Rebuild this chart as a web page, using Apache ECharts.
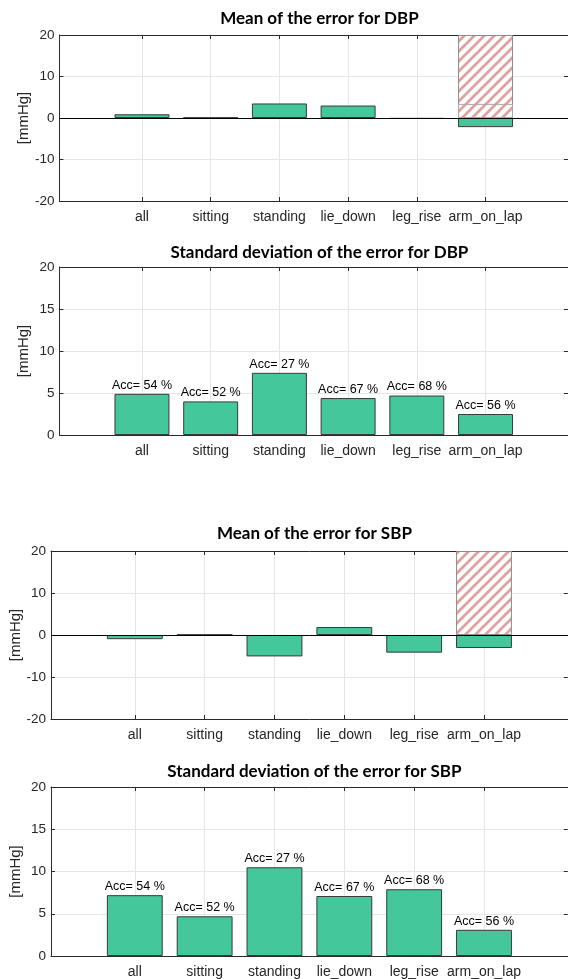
<!DOCTYPE html>
<html><head><meta charset="utf-8">
<script src="https://cdn.jsdelivr.net/npm/echarts@6/dist/echarts.min.js"></script>
<style>html,body{margin:0;padding:0;background:#fff}#c{width:568px;height:979px}</style>
</head><body><div id="c"></div>
<script>
// ---- data ----
const categories = ['all', 'sitting', 'standing', 'lie_down', 'leg_rise', 'arm_on_lap'];
const dbpMean = [0.9, 0.1, 3.5, 3.0, -0.2, -2.2];
const dbpStd  = [4.9, 4.0, 7.4, 4.4, 4.7, 2.5];
const sbpMean = [-1.0, 0.1, -5.1, 1.9, -4.2, -3.1];
const sbpStd  = [7.2, 4.7, 10.5, 7.1, 7.9, 3.1];
const dbpAcc  = [54, 52, 27, 67, 68, 56];
const sbpAcc  = [54, 52, 27, 67, 68, 56];
const dbpHatch     = [null, null, null, null, null, 20];
const dbpHatchMark = [null, null, null, null, null, 3.4];
const sbpHatch     = [null, null, null, null, null, 20];
const titles = ['Mean of the error for DBP', 'Standard deviation of the error for DBP',
                'Mean of the error for SBP', 'Standard deviation of the error for SBP'];
const meanRange = [-20, 20, 10];
const stdRange  = [0, 20, 5];
const unitLabel = '[mmHg]';

// ---- layout ----
const panels = [
  { title: titles[0], left: 59.5, right: -1.4, top: 35,  height: 166, ty: 5,   vals: dbpMean, range: meanRange, hatch: [dbpHatch, dbpHatchMark], acc: null },
  { title: titles[1], left: 59.5, right: -1.4, top: 267, height: 168, ty: 239, vals: dbpStd,  range: stdRange,  hatch: [], acc: dbpAcc },
  { title: titles[2], left: 51,   right: 0.2,  top: 551, height: 168, ty: 520, vals: sbpMean, range: meanRange, hatch: [sbpHatch], acc: null },
  { title: titles[3], left: 51,   right: 0.2,  top: 787, height: 170, ty: 758, vals: sbpStd,  range: stdRange,  hatch: [], acc: sbpAcc }
];

const W = 568;
const GREEN = '#43c79b';
const AXIS = '#2b2b2b';
const GRIDC = '#e6e6e6';
const TXT = '#262626';
const FONT = 'Liberation Sans, Arial, sans-serif';
const catIdx = categories.map((c, i) => i + 1);

function makeHatch() {
  const c = document.createElement('canvas');
  c.width = 10; c.height = 10;
  const g = c.getContext('2d');
  g.fillStyle = '#ffffff'; g.fillRect(0, 0, 10, 10);
  g.strokeStyle = 'rgba(214,112,112,0.68)'; g.lineWidth = 2.7;
  g.beginPath();
  g.moveTo(-5, 5); g.lineTo(5, -5);
  g.moveTo(0, 10); g.lineTo(10, 0);
  g.moveTo(5, 15); g.lineTo(15, 5);
  g.stroke();
  return c;
}
const hatchImg = makeHatch();

const grid = [], xAxis = [], yAxis = [], series = [], title = [];
panels.forEach((p, i) => {
  grid.push({ left: p.left, right: p.right, top: p.top, height: p.height, containLabel: false });
  const cx = p.left + (W - p.right - p.left) / 2;
  title.push({ text: p.title, left: cx, top: p.ty, textAlign: 'center',
    textStyle: { fontFamily: 'Lato', fontWeight: 'bold', fontSize: 17, color: '#000' } });
  const xBase = {
    type: 'value', gridIndex: i, min: -0.2, max: 7.2,
    axisLine: { show: true, onZero: false, lineStyle: { color: AXIS, width: 1 } },
    axisTick: { show: true, inside: true, length: 4, customValues: catIdx, lineStyle: { color: AXIS } }
  };
  xAxis.push(Object.assign({}, xBase, {
    position: 'bottom',
    axisLabel: { show: true, customValues: catIdx, margin: 9, fontSize: 14, fontFamily: FONT, color: TXT,
      formatter: v => categories[Math.round(v) - 1] || '' },
    splitLine: { show: true, lineStyle: { color: GRIDC, width: 1 } }
  }));
  xAxis.push(Object.assign({}, xBase, {
    position: 'top', axisLabel: { show: false }, splitLine: { show: false }
  }));
  const yBase = {
    type: 'value', gridIndex: i, min: p.range[0], max: p.range[1], interval: p.range[2],
    axisLine: { show: true, onZero: false, lineStyle: { color: AXIS, width: 1 } },
    axisTick: { show: true, inside: true, length: 4, lineStyle: { color: AXIS } }
  };
  yAxis.push(Object.assign({}, yBase, {
    position: 'left',
    name: unitLabel, nameLocation: 'middle', nameGap: 28, nameRotate: 90, nameMoveOverlap: false,
    nameTextStyle: { fontSize: 15, fontFamily: FONT, color: TXT },
    axisLabel: { margin: 5, fontSize: 13.5, fontFamily: FONT, color: TXT },
    splitLine: { show: true, lineStyle: { color: GRIDC, width: 1 } }
  }));
  yAxis.push(Object.assign({}, yBase, {
    position: 'right', axisLabel: { show: false }, splitLine: { show: false }
  }));

  const main = {
    type: 'bar', xAxisIndex: 2 * i, yAxisIndex: 2 * i, barWidth: '80%', barGap: '-100%',
    data: p.vals.map((v, k) => [catIdx[k], v]),
    itemStyle: { color: GREEN, borderColor: '#3a3a3a', borderWidth: 1 },
    z: 4
  };
  if (p.acc) {
    const acc = p.acc;
    main.label = { show: true, position: 'top', distance: 2, fontSize: 12.5, fontFamily: FONT, color: '#000',
      formatter: prm => 'Acc= ' + acc[prm.dataIndex] + ' %' };
  } else {
    main.markLine = { silent: true, symbol: ['none', 'none'], label: { show: false },
      lineStyle: { color: '#000', width: 1, type: 'solid' }, data: [{ yAxis: 0 }], animation: false };
  }
  series.push(main);
  p.hatch.forEach((h, j) => {
    series.push({
      type: 'bar', xAxisIndex: 2 * i, yAxisIndex: 2 * i, barWidth: '80%', barGap: '-100%',
      data: h.map((v, k) => [catIdx[k], v]).filter(d => d[1] !== null),
      itemStyle: { color: { image: hatchImg, repeat: 'repeat' }, borderColor: j === 0 ? '#8c8c8c' : '#a8a8a8', borderWidth: 1 },
      z: 2 + j
    });
  });
});

const chart = echarts.init(document.getElementById('c'), null, { renderer: 'canvas' });
chart.setOption({ animation: false, backgroundColor: '#fff', title, grid, xAxis, yAxis, series });
</script>
</body></html>
